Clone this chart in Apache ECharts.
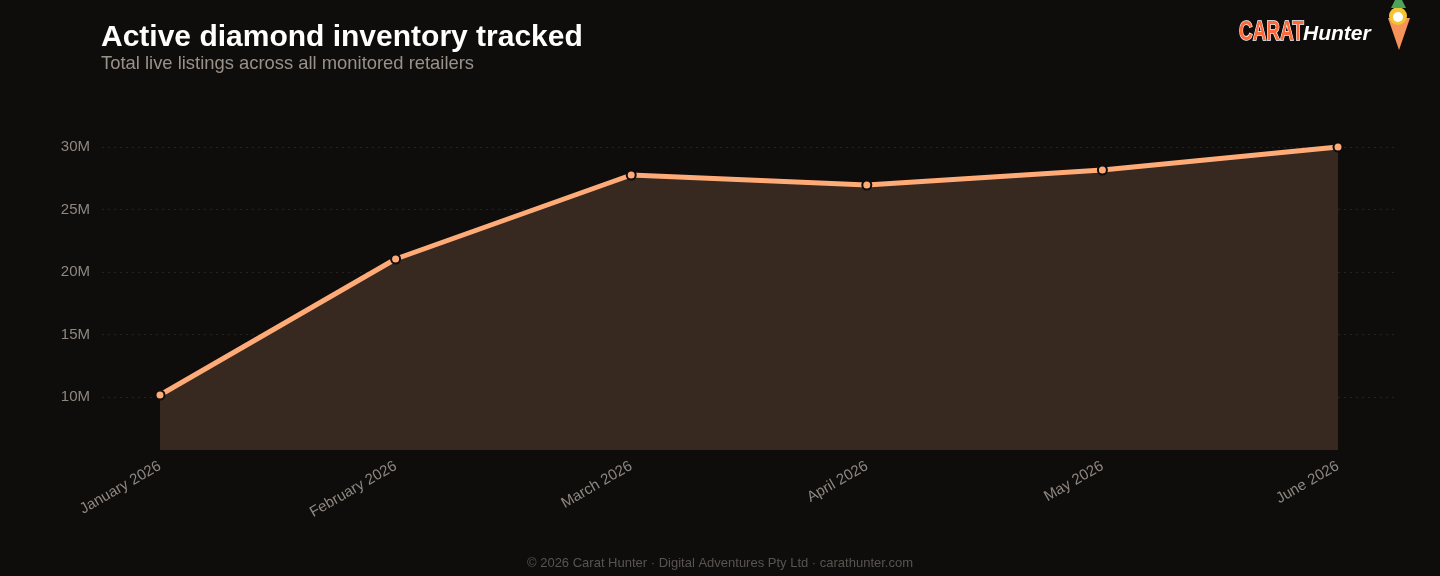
<!DOCTYPE html>
<html>
<head>
<meta charset="utf-8">
<style>
  html, body { margin: 0; padding: 0; background: #0e0d0c; }
  #chart { width: 1440px; height: 576px; }
</style>
<script src="https://cdn.jsdelivr.net/npm/echarts@6/dist/echarts.min.js"></script>
</head>
<body>
<div id="chart"></div>
<script>
const months = ['January 2026', 'February 2026', 'March 2026', 'April 2026', 'May 2026', 'June 2026'];
const listings = [10160000, 21040000, 27760000, 26960000, 28160000, 30000000];
const yMin = 5760000;
const yMax = 30000000;

const chart = echarts.init(document.getElementById('chart'));
const fmtM = v => (v / 1e6) + 'M';

chart.setOption({
    backgroundColor: '#0e0d0c',
    textStyle: { fontFamily: 'Liberation Sans, Arial, sans-serif' },
    title: {
        text: 'Active diamond inventory tracked',
        subtext: 'Total live listings across all monitored retailers',
        left: 96, top: 18,
        itemGap: 2,
        textStyle: { color: '#ffffff', fontSize: 30, fontWeight: 'bold' },
        subtextStyle: { color: '#9a9189', fontSize: 18.4 }
    },
    grid: [
        { left: 102, right: 42, top: 147, bottom: 179 },
        { left: 160, right: 102, top: 147, bottom: 126 }
    ],
    xAxis: [
        { type: 'category', gridIndex: 0, data: months, show: false },
        {
            type: 'category', gridIndex: 1, data: months, boundaryGap: false,
            axisLine: { show: false }, axisTick: { show: false },
            axisLabel: { color: '#8f8780', fontSize: 15, rotate: 30, margin: 15 }
        }
    ],
    yAxis: [
        {
            type: 'value', gridIndex: 0, min: 10000000, max: yMax, interval: 5000000,
            axisLine: { show: false }, axisTick: { show: false },
            axisLabel: { color: '#8f8780', fontSize: 15, margin: 12, formatter: fmtM },
            splitLine: { lineStyle: { color: '#252220', type: [2, 4] } }
        },
        {
            type: 'value', gridIndex: 1, min: yMin, max: yMax, show: false,
            splitLine: { show: false }
        }
    ],
    series: [{
        type: 'line',
        xAxisIndex: 1, yAxisIndex: 1,
        data: listings,
        symbol: 'circle', symbolSize: 9,
        itemStyle: { color: '#ffab78', borderColor: '#0e0d0c', borderWidth: 2 },
        lineStyle: { color: '#ffab78', width: 5 },
        areaStyle: { color: '#372820', opacity: 1 },
        z: 3
    }],
    graphic: [
        {
            type: 'text', x: 1239, y: 19, scaleX: 0.7,
            style: { text: 'CARAT', fill: '#ff6a3d', stroke: '#ffffff', lineWidth: 1.5, font: 'bold 27px "Liberation Sans", sans-serif' }
        },
        {
            type: 'text', left: 1303, top: 24,
            style: { text: 'Hunter', fill: '#ffffff', font: 'italic bold 21px "Liberation Sans", sans-serif' }
        },
        {
            type: 'polygon',
            shape: { points: [[1388, 18], [1410, 18], [1399, 50]] },
            style: { fill: '#f5935a' }
        },
        {
            type: 'circle', shape: { cx: 1398, cy: 16, r: 9 },
            style: { fill: '#f5c431' }
        },
        {
            type: 'circle', shape: { cx: 1398, cy: 17, r: 5 },
            style: { fill: '#ffffff' }
        },
        {
            type: 'polygon',
            shape: { points: [[1391, 8], [1395, 0], [1402, 0], [1406, 8]] },
            style: { fill: '#4ea35a' }
        },
        {
            type: 'text', left: 'center', top: 557,
            style: { text: '© 2026 Carat Hunter · Digital Adventures Pty Ltd · carathunter.com', fill: '#5a5450', font: '13px "Liberation Sans", sans-serif' }
        }
    ]
});
</script>
</body>
</html>
